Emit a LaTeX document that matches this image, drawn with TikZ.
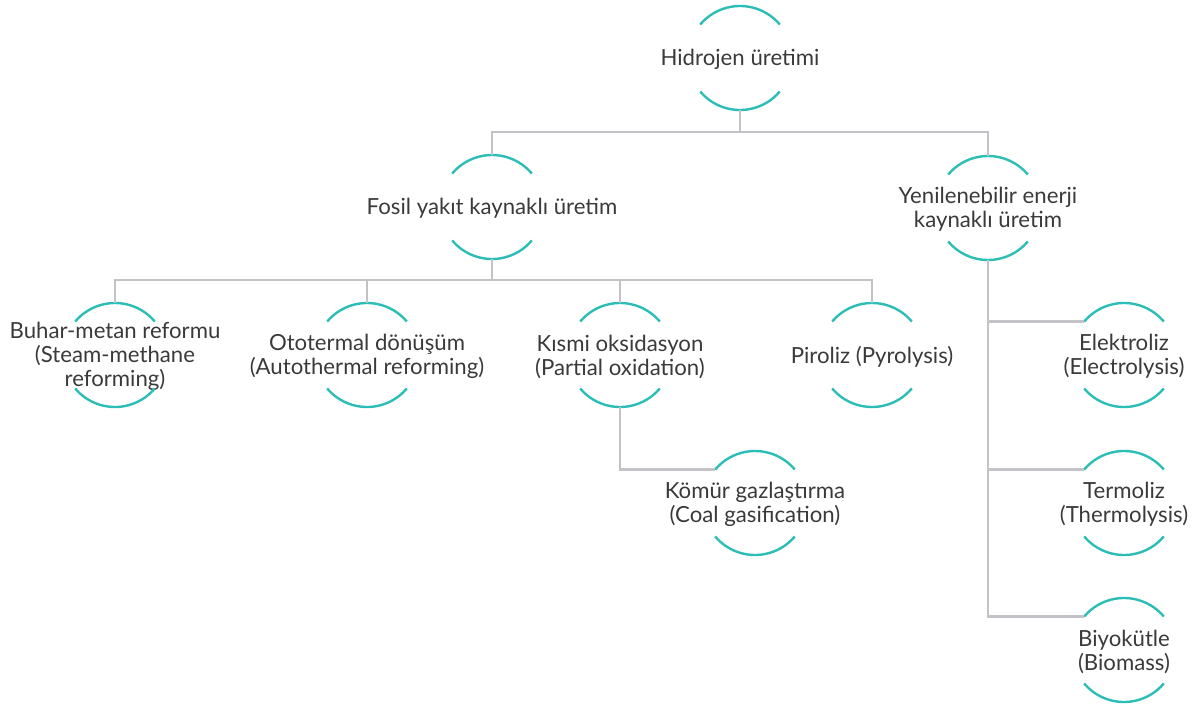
\documentclass[tikz,border=0pt]{standalone}
\usepackage{fontspec}
\setmainfont{Lato}
\definecolor{arcteal}{HTML}{2BBDB6}
\definecolor{linkgray}{HTML}{C3C3C7}
\definecolor{textgray}{HTML}{3A3A3A}
\tikzset{
  item/.style={circle, minimum size=104pt, inner sep=0pt, outer sep=0pt},
  caption/.style={align=center, inner sep=0pt, text=textgray, yshift=-1.5pt,
    font=\fontsize{22.2}{24}\selectfont},
  ring/.style={draw=arcteal, line width=2.4pt},
  link/.style={draw=linkgray, line width=2.6pt},
}
\begin{document}
\begin{tikzpicture}[x=1pt, y=-1pt]
    \useasboundingbox (0, 0) rectangle (1194, 707);

    % Nodes
    \node[item, label={[caption]center:Hidrojen üretimi}] (hid) at (740, 58) {};
    \node[item, label={[caption]center:Fosil yakıt kaynaklı üretim}] (fos) at (492, 207) {};
    \node[item, label={[caption]center:Yenilenebilir enerji\\kaynaklı üretim}] (yen) at (988, 208) {};
    \node[item, label={[caption]center:Buhar-metan reformu\\(Steam-methane\\reforming)}] (buh) at (115, 355) {};
    \node[item, label={[caption]center:Ototermal dönüşüm\\(Autothermal reforming)}] (oto) at (367, 355) {};
    \node[item, label={[caption]center:Kısmi oksidasyon\\(Partial oxidation)}] (kis) at (620, 355) {};
    \node[item, label={[caption]center:Piroliz (Pyrolysis)}] (pir) at (872, 355) {};
    \node[item, label={[caption]center:Kömür gazlaştırma\\(Coal gasification)}] (kom) at (755, 503) {};
    \node[item, label={[caption]center:Elektroliz\\(Electrolysis)}] (ele) at (1124, 355) {};
    \node[item, label={[caption]center:Termoliz\\(Thermolysis)}] (ter) at (1124, 503) {};
    \node[item, label={[caption]center:Biyokütle\\(Biomass)}] (bio) at (1124, 650) {};

    % Arcs
    \foreach \n in {hid, fos, yen, buh, oto, kis, pir, kom, ele, ter, bio} {
        \draw[ring] (\n.40) arc[start angle=40, end angle=140, radius=52pt];
        \draw[ring] (\n.220) arc[start angle=220, end angle=320, radius=52pt];
    }

    % Connectors
    \draw[link] (hid.south) -- ++(0, 22) coordinate (hjoin);
    \draw[link] (fos.north) -- (fos.north |- hjoin) -- (yen.north |- hjoin) -- (yen.north);

    \draw[link] (fos.south) -- ++(0, 21) coordinate (fjoin);
    \draw[link] (buh.north) -- (buh.north |- fjoin) -- (pir.north |- fjoin) -- (pir.north);
    \draw[link] (oto.north) -- (oto.north |- fjoin);
    \draw[link] (kis.north) -- (kis.north |- fjoin);
    \draw[link] (kis.south) |- (kom.140);

    \draw[link] (yen.south) |- (bio.140);
    \draw[link] (yen.south |- ele.140) -- (ele.140);
    \draw[link] (yen.south |- ter.140) -- (ter.140);
\end{tikzpicture}
\end{document}
